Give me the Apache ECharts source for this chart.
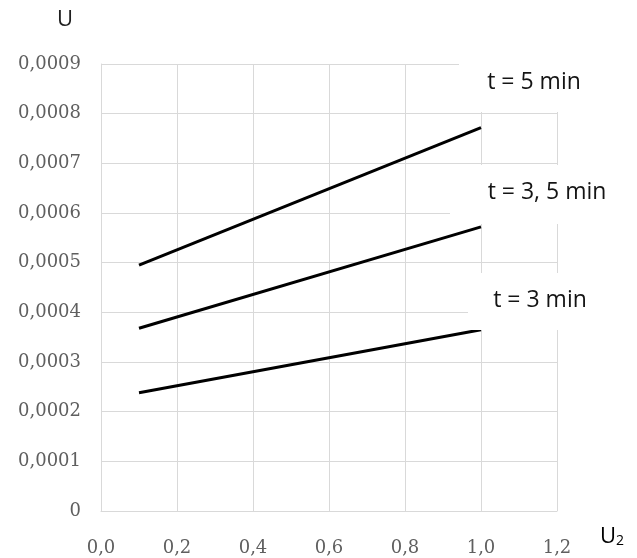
<!DOCTYPE html>
<html>
<head>
<meta charset="utf-8">
<script src="https://cdn.jsdelivr.net/npm/echarts@6/dist/echarts.min.js"></script>
<style>
html,body{margin:0;padding:0;background:#fff;}
#chart{width:637px;height:558px;}
</style>
</head>
<body>
<div id="chart"></div>
<script>
// ---- data ----
var xStart = 0.1;
var xEnd = 1.0;
var seriesNames = ['t = 5 min', 't = 3, 5 min', 't = 3 min'];
var t5Values = [0.000495, 0.000772];
var t35Values = [0.000368, 0.000572];
var t3Values = [0.000238, 0.000365];
var xTickLabels = ['0,0', '0,2', '0,4', '0,6', '0,8', '1,0', '1,2'];
var yTickLabels = ['0', '0,0001', '0,0002', '0,0003', '0,0004', '0,0005', '0,0006', '0,0007', '0,0008', '0,0009'];
var yAxisTitle = 'U';
var xAxisTitle = 'U';
var xAxisTitleSub = '2';

function pairs(vals) { return [[xStart, vals[0]], [xEnd, vals[1]]]; }

var chart = echarts.init(document.getElementById('chart'));
var lineStyle = { color: '#000', width: 3 };
var labelFont = '"Open Sans", Lato, sans-serif';
var tickFont = '"DejaVu Serif", serif';

var option = {
  animation: false,
  backgroundColor: '#fff',
  grid: { left: 101, right: 80, top: 64, bottom: 47, containLabel: false, outerBoundsMode: 'none' },
  xAxis: {
    type: 'value', min: 0, max: 1.2, interval: 0.2,
    axisLine: { show: true, lineStyle: { color: '#d9d9d9', width: 1 } },
    axisTick: { show: false },
    splitLine: { show: true, lineStyle: { color: '#d9d9d9', width: 1 } },
    axisLabel: {
      margin: 28, color: '#5f5f5f', fontFamily: tickFont, fontSize: 18,
      formatter: function (v) { return xTickLabels[Math.round(v / 0.2)]; }
    }
  },
  yAxis: {
    type: 'value', min: 0, max: 0.0009, interval: 0.0001,
    axisLine: { show: true, lineStyle: { color: '#d9d9d9', width: 1 } },
    axisTick: { show: false },
    splitLine: { show: true, lineStyle: { color: '#d9d9d9', width: 1 } },
    axisLabel: {
      margin: 20, color: '#5f5f5f', fontFamily: tickFont, fontSize: 18,
      formatter: function (v) { return yTickLabels[Math.round(v / 0.0001)]; }
    }
  },
  series: [
    { name: seriesNames[0], type: 'line', data: pairs(t5Values), symbol: 'none', lineStyle: lineStyle },
    { name: seriesNames[1], type: 'line', data: pairs(t35Values), symbol: 'none', lineStyle: lineStyle },
    { name: seriesNames[2], type: 'line', data: pairs(t3Values), symbol: 'none', lineStyle: lineStyle }
  ],
  graphic: [
    { type: 'rect', z: 100, shape: { x: 459, y: 50, width: 170, height: 62 }, style: { fill: '#fff' } },
    { type: 'rect', z: 100, shape: { x: 450, y: 165, width: 180, height: 59 }, style: { fill: '#fff' } },
    { type: 'rect', z: 100, shape: { x: 468, y: 273, width: 165, height: 57 }, style: { fill: '#fff' } },
    { type: 'text', z: 101, x: 534, y: 82, style: { text: seriesNames[0], font: '23px ' + labelFont, fill: '#141414', align: 'center', verticalAlign: 'middle' } },
    { type: 'text', z: 101, x: 547, y: 192, style: { text: seriesNames[1], font: '23px ' + labelFont, fill: '#141414', align: 'center', verticalAlign: 'middle' } },
    { type: 'text', z: 101, x: 540, y: 300, style: { text: seriesNames[2], font: '23px ' + labelFont, fill: '#141414', align: 'center', verticalAlign: 'middle' } },
    { type: 'text', z: 101, x: 65, y: 20, style: { text: yAxisTitle, font: '22px ' + labelFont, fill: '#1f1f1f', align: 'center', verticalAlign: 'middle' } },
    { type: 'text', z: 101, x: 612, y: 537, style: {
        text: '{m|' + xAxisTitle + '}{s|' + xAxisTitleSub + '}', align: 'center', verticalAlign: 'middle',
        rich: {
          m: { fontFamily: labelFont, fontSize: 22, color: '#1f1f1f' },
          s: { fontFamily: labelFont, fontSize: 14, color: '#1f1f1f', verticalAlign: 'bottom', padding: [8, 0, 0, 0] }
        }
    } }
  ]
};
chart.setOption(option);
</script>
</body>
</html>
